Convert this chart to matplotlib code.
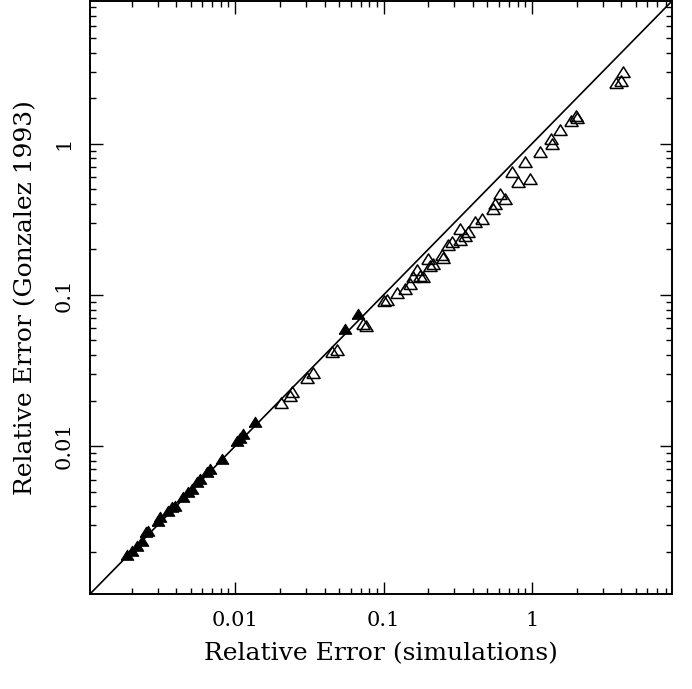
#!/usr/bin/env python3

import numpy as np
import matplotlib
matplotlib.use('Agg')
import matplotlib.pyplot as plt
from matplotlib.ticker import FixedLocator, FixedFormatter, LogLocator, NullFormatter

from matplotlib import rc
rc('font', **{'family': 'serif', 'serif': ['DejaVu Serif'], 'size': 15})

# filled triangles
sim_filled = [0.00187, 0.00202, 0.00219, 0.00236, 0.00252, 0.00260, 0.00303, 0.00312,
              0.00354, 0.00376, 0.00395, 0.00446, 0.00483, 0.00513, 0.00555, 0.00581,
              0.00648, 0.00679, 0.00817, 0.0103, 0.0108, 0.0113, 0.0136, 0.0551, 0.0674]
gon_filled = [0.00187, 0.00199, 0.00215, 0.00232, 0.00265, 0.00269, 0.00313, 0.00332,
              0.00364, 0.00387, 0.00393, 0.00451, 0.00487, 0.00509, 0.00567, 0.00593,
              0.00659, 0.00690, 0.00804, 0.0106, 0.0112, 0.0118, 0.0141, 0.0582, 0.0733]

# open triangles
sim_open = [0.0204, 0.0235, 0.0242, 0.0305, 0.0335, 0.0450, 0.0486, 0.0728, 0.0762,
            0.1008, 0.1056, 0.1233, 0.1396, 0.151, 0.158, 0.168, 0.176, 0.185, 0.1995,
            0.206, 0.216, 0.248, 0.252, 0.272, 0.289, 0.327, 0.330, 0.354, 0.371, 0.413,
            0.461, 0.546, 0.563, 0.609, 0.658, 0.733, 0.805, 0.898, 0.970, 1.132, 1.343,
            1.364, 1.544, 1.831, 1.978, 2.01, 3.68, 3.98, 4.10]
gon_open = [0.0189, 0.0210, 0.0223, 0.0276, 0.0298, 0.0410, 0.0423, 0.0629, 0.0609,
            0.0891, 0.0905, 0.1008, 0.1071, 0.1156, 0.1285, 0.145, 0.132, 0.130, 0.169,
            0.152, 0.157, 0.182, 0.174, 0.212, 0.219, 0.267, 0.229, 0.240, 0.255, 0.297,
            0.311, 0.362, 0.391, 0.455, 0.422, 0.637, 0.546, 0.741, 0.572, 0.875, 1.052,
            0.975, 1.206, 1.383, 1.492, 1.469, 2.50, 2.58, 2.92]

major_ticks = [0.01, 0.1, 1]
major_labels = ['0.01', '0.1', '1']

lo, hi = 0.00105, 8.8

tri = [(-1, -0.6), (1, -0.6), (0, 1.0), (-1, -0.6)]

fig = plt.figure(figsize=(6.92, 6.89), dpi=100)
ax = fig.add_axes([90/692, 1 - 594/689, 582/692, 593/689])

ax.plot([lo, hi], [lo, hi], color='black', lw=1.2)
ax.plot(sim_open, gon_open, linestyle='none', marker=tri, markersize=9.5,
        markerfacecolor='none', markeredgecolor='black', markeredgewidth=1.1)
ax.plot(sim_filled, gon_filled, linestyle='none', marker=tri, markersize=9,
        markerfacecolor='black', markeredgecolor='black', markeredgewidth=0.8)

ax.set_xscale('log')
ax.set_yscale('log')
ax.set_xlim(lo, hi)
ax.set_ylim(lo, hi)

for axis in (ax.xaxis, ax.yaxis):
	axis.set_major_locator(FixedLocator(major_ticks))
	axis.set_major_formatter(FixedFormatter(major_labels))
	axis.set_minor_locator(LogLocator(base=10, subs=np.arange(2, 10), numticks=20))
	axis.set_minor_formatter(NullFormatter())

ax.tick_params(which='both', direction='in', top=True, right=True, width=1.0)
ax.tick_params(which='major', length=9, pad=12)
ax.tick_params(which='minor', length=4.5)
for lbl in ax.get_yticklabels():
	lbl.set_rotation(90)
	lbl.set_va('center')
for sp in ax.spines.values():
	sp.set_linewidth(1.4)

ax.set_xlabel('Relative Error (simulations)', fontsize=18, labelpad=9)
ax.set_ylabel('Relative Error (Gonzalez 1993)', fontsize=18, labelpad=12)

fig.savefig('out.png', dpi=100)
